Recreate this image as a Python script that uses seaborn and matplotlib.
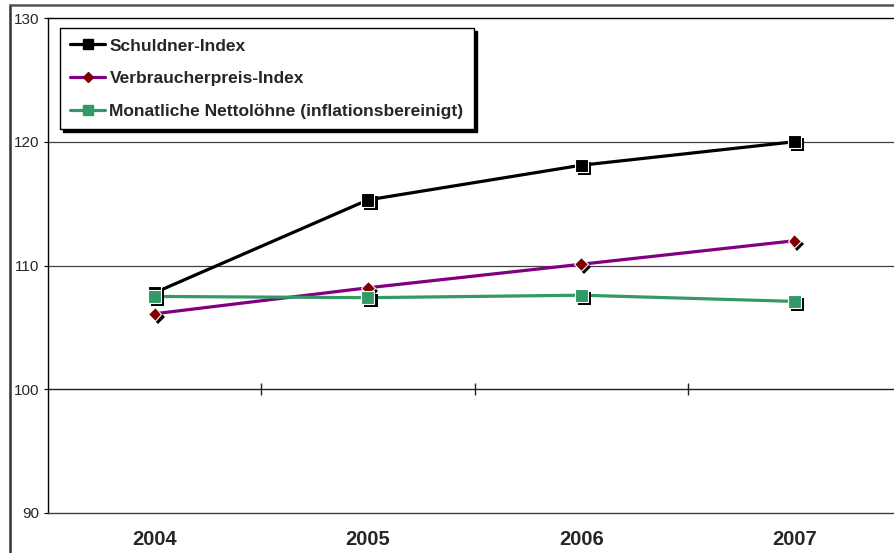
import matplotlib
matplotlib.use("Agg")
import matplotlib.pyplot as plt
import matplotlib.patheffects as pe
from matplotlib.lines import Line2D
import seaborn as sns
import pandas as pd

# Index series per year
years = ["2004", "2005", "2006", "2007"]
schuldner = [107.8, 115.3, 118.1, 120.0]
verbraucherpreis = [106.1, 108.2, 110.1, 112.0]
nettoloehne = [107.5, 107.4, 107.6, 107.1]

series_names = ["Schuldner-Index", "Verbraucherpreis-Index",
                "Monatliche Nettolöhne (inflationsbereinigt)"]
series_values = [schuldner, verbraucherpreis, nettoloehne]
line_colors = ["#000000", "#800080", "#339966"]
marker_faces = ["#000000", "#800000", "#339966"]
marker_shapes = ["s", "D", "s"]
marker_sizes = [9.5, 7.0, 9.5]

y_ticks = [90, 100, 110, 120, 130]

sns.set_theme(style="white")
plt.rcParams["font.family"] = ["Liberation Sans", "DejaVu Sans"]

rows = []
for name, vals in zip(series_names, series_values):
    for i, v in enumerate(vals):
        rows.append({"Serie": name, "pos": i, "Jahr": years[i], "Wert": v})
df = pd.DataFrame(rows)

W, H = 895, 553
fig = plt.figure(figsize=(W / 100, H / 100), dpi=100)
fig.patch.set_facecolor("white")

left, right, top, bottom = 48, 901, 18, 513
ax = fig.add_axes([left / W, (H - bottom) / H, (right - left) / W, (bottom - top) / H])
ax.set_facecolor("white")

# grid lines and the category axis crossing at 100
for yv in [110, 120]:
    ax.axhline(yv, color="#404040", lw=0.9, zorder=1)
ax.axhline(100, color="#202020", lw=1.0, zorder=1)
ax.vlines([0.5, 1.5, 2.5], 99.5, 100.5, color="#202020", lw=1.0, zorder=1)

shadow = [pe.SimplePatchShadow(offset=(2.2, -2.2), shadow_rgbFace="black", alpha=1.0),
          pe.Normal()]

for k, name in enumerate(series_names):
    sub = df[df["Serie"] == name]
    sns.lineplot(data=sub, x="pos", y="Wert", color=line_colors[k], lw=2.3,
                 ax=ax, legend=False, zorder=3 + 2 * k)
    ax.plot(sub["pos"], sub["Wert"], ls="none", marker=marker_shapes[k],
            markersize=marker_sizes[k], markerfacecolor=marker_faces[k],
            markeredgecolor="white", markeredgewidth=0.8,
            path_effects=shadow, zorder=4 + 2 * k)

ax.set_xlim(-0.5, 3.5)
ax.set_ylim(90, 130)
ax.set_xticks(range(len(years)))
ax.set_xticklabels(years, fontsize=14.5, fontweight="bold")
ax.tick_params(axis="x", length=0, pad=12)
ax.set_yticks(y_ticks)
ax.set_yticklabels([str(t) for t in y_ticks], fontsize=11)
ax.tick_params(axis="y", direction="out", length=3, width=0.8, color="black",
               pad=3, left=True)
ax.set_xlabel("")
ax.set_ylabel("")

for side in ["left", "top", "bottom"]:
    ax.spines[side].set_visible(True)
    ax.spines[side].set_color("black")
    ax.spines[side].set_linewidth(1.0)
ax.spines["bottom"].set_color("#404040")
ax.spines["right"].set_visible(False)

handles = [Line2D([], [], color=line_colors[k], lw=2.3, marker=marker_shapes[k],
                  markersize=marker_sizes[k] * 0.75, markerfacecolor=marker_faces[k],
                  markeredgecolor=marker_faces[k])
           for k in range(3)]
leg = ax.legend(handles, series_names, loc="upper left",
                bbox_to_anchor=((60 - left) / (right - left), 1 - (28 - top) / (bottom - top)),
                borderaxespad=0, frameon=True, fancybox=False,
                shadow={"color": "black", "alpha": 1.0},
                prop={"weight": "bold", "size": 12.5},
                handlelength=2.0, handletextpad=0.25, labelspacing=1.0,
                borderpad=0.6)
leg.get_frame().set_edgecolor("black")
leg.get_frame().set_linewidth(1.0)
leg.set_zorder(20)

# outer chart frame
fig.add_artist(Line2D([10 / W, 10 / W], [0, 1 - 5 / H], transform=fig.transFigure,
                      color="#333333", lw=1.8))
fig.add_artist(Line2D([10 / W, 1], [1 - 5 / H, 1 - 5 / H], transform=fig.transFigure,
                      color="#555555", lw=1.8))

fig.savefig("out.png", dpi=100, facecolor="white")
